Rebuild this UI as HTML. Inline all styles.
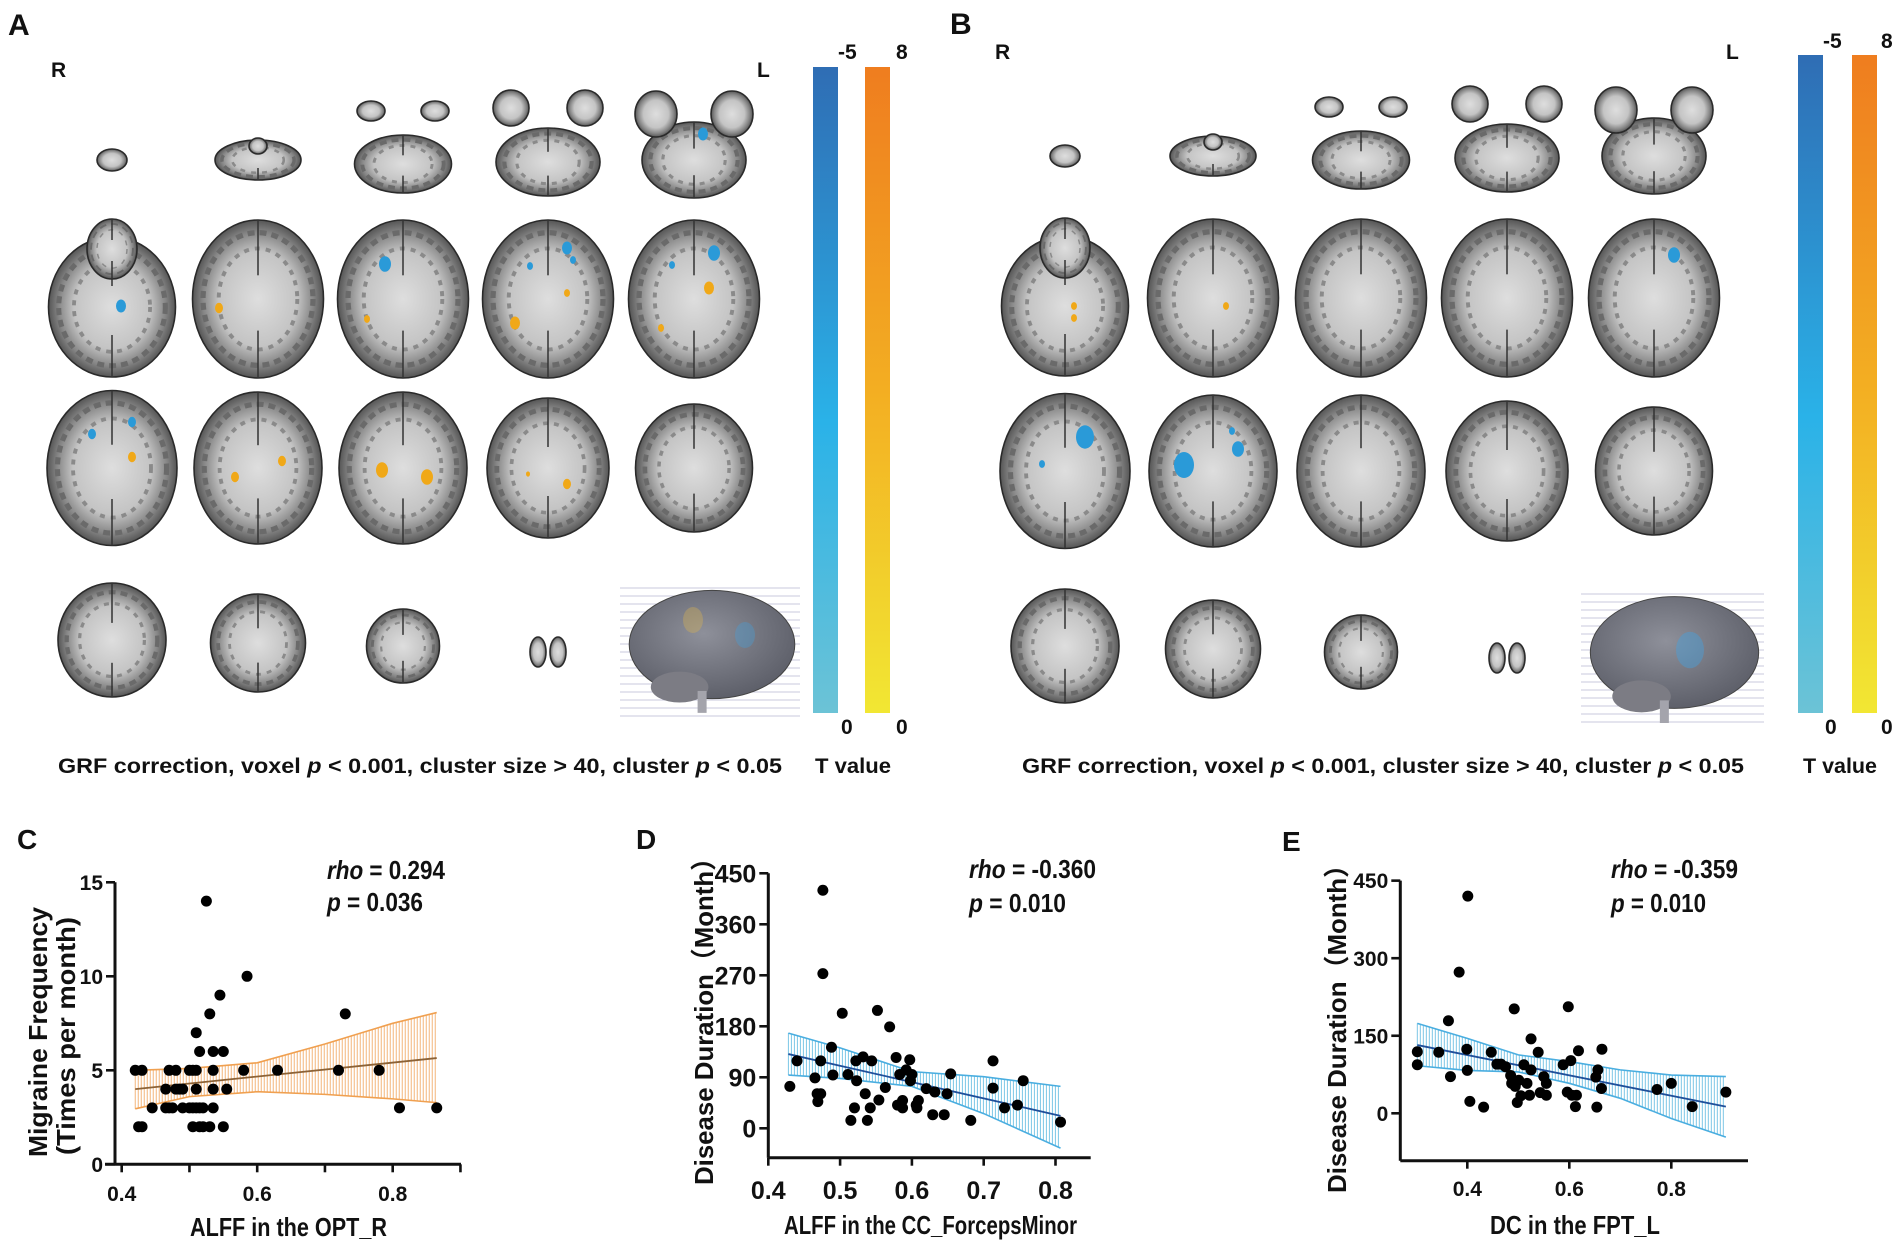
<!DOCTYPE html>
<html><head><meta charset="utf-8"><title>Brain figure</title>
<style>
html,body{margin:0;padding:0;background:#fff;}
svg{display:block;}
text{font-family:"Liberation Sans","Noto Sans CJK SC",sans-serif;font-weight:bold;fill:#111;}
</style></head>
<body>
<svg id="fig" xmlns="http://www.w3.org/2000/svg" width="1902" height="1249" viewBox="0 0 1902 1249">
<defs>
<radialGradient id="brainGrad" cx="50%" cy="50%" r="50%">
<stop offset="0%" stop-color="#dedede"/><stop offset="60%" stop-color="#c4c4c4"/><stop offset="85%" stop-color="#858585"/><stop offset="100%" stop-color="#555"/>
</radialGradient>
<radialGradient id="brain3d" cx="45%" cy="40%" r="60%">
<stop offset="0%" stop-color="#8e909a"/><stop offset="100%" stop-color="#5e606a"/>
</radialGradient>
<linearGradient id="blueBar" x1="0" y1="0" x2="0" y2="1">
<stop offset="0%" stop-color="#2f6db4"/><stop offset="55%" stop-color="#2ab2e8"/><stop offset="100%" stop-color="#6cc3d6"/>
</linearGradient>
<linearGradient id="orangeBar" x1="0" y1="0" x2="0" y2="1">
<stop offset="0%" stop-color="#ef7d1f"/><stop offset="50%" stop-color="#f3ae22"/><stop offset="100%" stop-color="#f2e733"/>
</linearGradient>
</defs>

<!-- Panel A static text -->
<text x="8" y="35" font-size="30">A</text>
<text x="51" y="77" font-size="21">R</text>
<text x="757" y="77" font-size="21">L</text>
<rect x="813" y="67" width="25" height="646" fill="url(#blueBar)"/>
<rect x="865" y="67" width="25" height="646" fill="url(#orangeBar)"/>
<text x="838" y="59" font-size="21">-5</text>
<text x="896" y="59" font-size="21">8</text>
<text x="841" y="734" font-size="21">0</text>
<text x="896" y="734" font-size="21">0</text>
<text x="58" y="773" font-size="21" textLength="724" lengthAdjust="spacingAndGlyphs">GRF correction, voxel <tspan font-style="italic">p</tspan> &lt; 0.001, cluster size &gt; 40, cluster <tspan font-style="italic">p</tspan> &lt; 0.05</text>
<text x="815" y="773" font-size="21" textLength="76" lengthAdjust="spacingAndGlyphs">T value</text>

<!-- Panel B static text -->
<text x="950" y="34" font-size="30">B</text>
<text x="995" y="59" font-size="21">R</text>
<text x="1726" y="59" font-size="21">L</text>
<rect x="1798" y="55" width="25" height="658" fill="url(#blueBar)"/>
<rect x="1852" y="55" width="25" height="658" fill="url(#orangeBar)"/>
<text x="1823" y="48" font-size="21">-5</text>
<text x="1881" y="48" font-size="21">8</text>
<text x="1825" y="734" font-size="21">0</text>
<text x="1881" y="734" font-size="21">0</text>
<text x="1022" y="773" font-size="21" textLength="722" lengthAdjust="spacingAndGlyphs">GRF correction, voxel <tspan font-style="italic">p</tspan> &lt; 0.001, cluster size &gt; 40, cluster <tspan font-style="italic">p</tspan> &lt; 0.05</text>
<text x="1803" y="773" font-size="21" textLength="74" lengthAdjust="spacingAndGlyphs">T value</text>

<!-- Panel C text -->
<text x="17" y="849" font-size="28">C</text>
<text x="327" y="879" font-size="26" textLength="118" lengthAdjust="spacingAndGlyphs"><tspan font-style="italic">rho</tspan> = 0.294</text>
<text x="327" y="911" font-size="26" textLength="96" lengthAdjust="spacingAndGlyphs"><tspan font-style="italic">p</tspan> = 0.036</text>
<text x="190" y="1236" font-size="26" textLength="197" lengthAdjust="spacingAndGlyphs">ALFF in the OPT_R</text>
<text transform="translate(47,1157) rotate(-90)" x="0" y="0" font-size="26" textLength="250" lengthAdjust="spacingAndGlyphs">Migraine Frequency</text>
<text transform="translate(75,1155) rotate(-90)" x="0" y="0" font-size="26" textLength="238" lengthAdjust="spacingAndGlyphs">(Times per month)</text>

<!-- Panel D text -->
<text x="636" y="849" font-size="28">D</text>
<text x="969" y="878" font-size="26" textLength="127" lengthAdjust="spacingAndGlyphs"><tspan font-style="italic">rho</tspan> = -0.360</text>
<text x="969" y="912" font-size="26" textLength="97" lengthAdjust="spacingAndGlyphs"><tspan font-style="italic">p</tspan> = 0.010</text>
<text x="784" y="1234" font-size="26" textLength="293" lengthAdjust="spacingAndGlyphs">ALFF in the CC_ForcepsMinor</text>
<text transform="translate(713,1185) rotate(-90)" x="0" y="0" font-size="26" textLength="340" lengthAdjust="spacingAndGlyphs">Disease Duration（Month）</text>

<!-- Panel E text -->
<text x="1282" y="851" font-size="28">E</text>
<text x="1611" y="878" font-size="26" textLength="127" lengthAdjust="spacingAndGlyphs"><tspan font-style="italic">rho</tspan> = -0.359</text>
<text x="1611" y="912" font-size="26" textLength="95" lengthAdjust="spacingAndGlyphs"><tspan font-style="italic">p</tspan> = 0.010</text>
<text x="1490" y="1234" font-size="26" textLength="170" lengthAdjust="spacingAndGlyphs">DC in the FPT_L</text>
<text transform="translate(1346,1193) rotate(-90)" x="0" y="0" font-size="26" textLength="341" lengthAdjust="spacingAndGlyphs">Disease Duration（Month）</text>

<g id="brains"></g>
<g id="charts"></g>
</svg>

<script>
// ---------- Panel C data ----------
const cXTicks = [0.4, 0.5, 0.6, 0.7, 0.8, 0.9];
const cXLabels = ["0.4", "", "0.6", "", "0.8", ""];
const cYTicks = [0, 5, 10, 15];
const cX = [0.42,0.43,0.425,0.43,0.445,0.465,0.47,0.48,0.465,0.47,0.475,0.48,0.485,0.49,0.5,0.505,0.51,0.51,0.49,0.5,0.505,0.51,0.515,0.52,0.505,0.515,0.52,0.51,0.515,0.525,0.53,0.535,0.535,0.535,0.535,0.53,0.545,0.55,0.555,0.55,0.585,0.58,0.63,0.72,0.73,0.78,0.81,0.865];
const cY = [5,5,2,2,3,4,5,5,3,3,3,4,4,4,5,5,5,4,3,3,3,3,3,3,2,2,2,7,6,14,8,6,5,4,3,2,9,6,4,2,10,5,5,5,8,5,3,3];
const cFitX = [0.42, 0.865];
const cFitY = [4.0, 5.65];
const cCiX = [0.42, 0.5, 0.6, 0.7, 0.8, 0.865];
const cCiUp = [5.0, 5.1, 5.4, 6.4, 7.5, 8.07];
const cCiLo = [2.95, 3.6, 3.86, 3.72, 3.48, 3.28];

// ---------- Panel D data ----------
const dXTicks = [0.4, 0.5, 0.6, 0.7, 0.8];
const dXLabels = ["0.4", "0.5", "0.6", "0.7", "0.8"];
const dYTicks = [0, 90, 180, 270, 360, 450];
const dX = [0.430,0.440,0.476,0.476,0.465,0.468,0.473,0.469,0.473,0.488,0.490,0.503,0.511,0.515,0.520,0.522,0.523,0.532,0.535,0.538,0.542,0.544,0.552,0.554,0.563,0.569,0.578,0.580,0.583,0.584,0.587,0.587,0.592,0.597,0.598,0.600,0.606,0.607,0.609,0.620,0.629,0.632,0.645,0.649,0.654,0.682,0.713,0.713,0.729,0.747,0.755,0.807];
const dY = [74,119,420,273,89,61,61,47,119,143,94,203,95,14,36,119,84,126,61,14,36,119,208,50,72,179,125,41,95,41,49,36,103,121,84,95,41,36,49,70,24,64,24,61,96,14,119,71,36,41,84,11];
const dFitX = [0.428, 0.807];
const dFitY = [131, 22];
const dCiX = [0.428, 0.5, 0.6, 0.7, 0.807];
const dCiUp = [168, 142, 100, 91, 74];
const dCiLo = [94, 88, 74, 26, -35];

// ---------- Panel E data ----------
const eXTicks = [0.4, 0.6, 0.8];
const eXLabels = ["0.4", "0.6", "0.8"];
const eYTicks = [0, 150, 300, 450];
const eX = [0.302,0.302,0.344,0.367,0.363,0.384,0.401,0.399,0.400,0.405,0.432,0.447,0.458,0.466,0.475,0.485,0.487,0.492,0.494,0.498,0.501,0.505,0.511,0.517,0.522,0.525,0.525,0.539,0.543,0.550,0.555,0.555,0.588,0.596,0.598,0.603,0.605,0.612,0.614,0.618,0.652,0.656,0.654,0.663,0.664,0.772,0.800,0.841,0.907];
const eY = [119,94,118,71,179,273,420,124,83,23,12,118,95,95,90,73,58,202,52,21,64,34,94,58,35,144,84,118,40,71,35,58,94,41,206,102,35,13,35,121,70,84,12,48,124,46,58,13,41];
const eFitX = [0.302, 0.907];
const eFitY = [132, 13];
const eCiX = [0.302, 0.4, 0.5, 0.6, 0.7, 0.8, 0.907];
const eCiUp = [174, 145, 113, 100, 84, 74, 71];
const eCiLo = [92, 83, 80, 58, 29, -10, -46];

// axis functions
const xC = v => 121.7 + (v - 0.4) * 677.5;
const yC = v => 1164.3 - v * 18.8;
const xD = v => 768.3 + (v - 0.4) * 718;
const yD = v => 1128.3 - v * 0.5667;
const xE = v => 1467.3 + (v - 0.4) * 510;
const yE = v => 1113.3 - v * 0.517;

const NS = "http://www.w3.org/2000/svg";
function mk(parent, tag, attrs, name) {
  const e = document.createElementNS(NS, tag);
  for (const k in attrs) e.setAttribute(k, attrs[k]);
  
  
  parent.appendChild(e);
  return e;
}
function interp(xs, ys, x) {
  if (x <= xs[0]) return ys[0];
  for (let i = 1; i < xs.length; i++) {
    if (x <= xs[i]) { const t = (x - xs[i-1]) / (xs[i] - xs[i-1]); return ys[i-1] + t * (ys[i] - ys[i-1]); }
  }
  return ys[ys.length - 1];
}

function drawPanel(id, xs, ys, fitX, fitY, ciX, ciUp, ciLo, xf, yf, opt) {
  const root = document.getElementById('charts');
  const g = mk(root, 'g', {}, 'panel-' + id + '-plot');
  const band = mk(g, 'g', {}, 'panel-' + id + '-confidence-band');
  const x0 = xf(ciX[0]), x1 = xf(ciX[ciX.length - 1]);
  for (let px = x0; px <= x1 + 0.01; px += 3) {
    const v = ciX[0] + (px - x0) / (x1 - x0) * (ciX[ciX.length-1] - ciX[0]);
    mk(band, 'line', {x1: px, x2: px, y1: yf(interp(ciX, ciUp, v)), y2: yf(interp(ciX, ciLo, v)), stroke: opt.hatch, 'stroke-width': 1}, 'panel-' + id + '-hatch-line');
  }
  const up = ciX.map((v, i) => xf(v) + ',' + yf(ciUp[i])).join(' ');
  const lo = ciX.map((v, i) => xf(v) + ',' + yf(ciLo[i])).join(' ');
  mk(band, 'polyline', {points: up, fill: 'none', stroke: opt.edge, 'stroke-width': 1.6}, 'panel-' + id + '-ci-upper');
  mk(band, 'polyline', {points: lo, fill: 'none', stroke: opt.edge, 'stroke-width': 1.6}, 'panel-' + id + '-ci-lower');
  mk(g, 'line', {x1: xf(fitX[0]), y1: yf(fitY[0]), x2: xf(fitX[1]), y2: yf(fitY[1]), stroke: opt.fit, 'stroke-width': 1.8}, 'panel-' + id + '-regression-line');
  const ax = opt.axis;
  mk(g, 'line', {x1: ax.yAxisX, x2: ax.yAxisX, y1: yf(ax.yTop), y2: ax.yBottom, stroke: '#111', 'stroke-width': 3}, 'panel-' + id + '-y-axis');
  mk(g, 'line', {x1: ax.xStart, x2: ax.xEnd, y1: ax.xAxisY, y2: ax.xAxisY, stroke: '#111', 'stroke-width': 3}, 'panel-' + id + '-x-axis');
  opt.yTicks.forEach(v => {
    mk(g, 'line', {x1: ax.yAxisX - 9, x2: ax.yAxisX, y1: yf(v), y2: yf(v), stroke: '#111', 'stroke-width': 2.6}, 'panel-' + id + '-y-tick');
    const t = mk(g, 'text', {x: ax.yAxisX - 12, y: yf(v) + opt.tickFont * 0.36, 'text-anchor': 'end', 'font-size': opt.tickFont}, 'panel-' + id + '-y-tick-label');
    t.textContent = String(v);
  });
  opt.xTicks.forEach((v, i) => {
    mk(g, 'line', {x1: xf(v), x2: xf(v), y1: ax.xAxisY, y2: ax.xAxisY + 8, stroke: '#111', 'stroke-width': 2.6}, 'panel-' + id + '-x-tick');
    if (opt.xLabels[i]) {
      const t = mk(g, 'text', {x: xf(v), y: ax.labelY, 'text-anchor': 'middle', 'font-size': opt.tickFont}, 'panel-' + id + '-x-tick-label');
      t.textContent = opt.xLabels[i];
    }
  });
  const pts = mk(g, 'g', {}, 'panel-' + id + '-points');
  xs.forEach((v, i) => {
    mk(pts, 'circle', {cx: xf(v), cy: yf(ys[i]), r: 5.5, fill: '#000'}, 'panel-' + id + '-data-point');
  });
}

drawPanel('c', cX, cY, cFitX, cFitY, cCiX, cCiUp, cCiLo, xC, yC, {
  hatch: '#f2b57a', edge: '#f0a050', fit: '#8c6236', tickFont: 21,
  yTicks: cYTicks, xTicks: cXTicks, xLabels: cXLabels,
  axis: {yAxisX: 115, yTop: 15, yBottom: 1164.3, xStart: 105, xEnd: 461, xAxisY: 1164.3, labelY: 1201}
});
drawPanel('d', dX, dY, dFitX, dFitY, dCiX, dCiUp, dCiLo, xD, yD, {
  hatch: '#7cc6e6', edge: '#4aaee0', fit: '#1f4f9a', tickFont: 25,
  yTicks: dYTicks, xTicks: dXTicks, xLabels: dXLabels,
  axis: {yAxisX: 768.3, yTop: 450, yBottom: 1157.7, xStart: 768.3, xEnd: 1090.7, xAxisY: 1157.7, labelY: 1199}
});
drawPanel('e', eX, eY, eFitX, eFitY, eCiX, eCiUp, eCiLo, xE, yE, {
  hatch: '#7cc6e6', edge: '#4aaee0', fit: '#1f4f9a', tickFont: 21,
  yTicks: eYTicks, xTicks: eXTicks, xLabels: eXLabels,
  axis: {yAxisX: 1400.3, yTop: 450, yBottom: 1160.7, xStart: 1400.3, xEnd: 1748, xAxisY: 1160.7, labelY: 1196}
});

// ---------- Brain slices (decorative imagery) ----------
const bg = document.getElementById('brains');
function slice(cx, cy, w, h, name) {
  const g = mk(bg, 'g', {}, name);
  mk(g, 'ellipse', {cx: cx, cy: cy, rx: w/2, ry: h/2, fill: 'url(#brainGrad)', stroke: '#2a2a2a', 'stroke-width': 1.6}, 'slice-outline');
  if (w > 45) {
    mk(g, 'ellipse', {cx: cx, cy: cy, rx: w*0.42, ry: h*0.42, fill: 'none', stroke: '#6a6a6a', 'stroke-width': Math.max(2, w*0.04), 'stroke-dasharray': '7 5'}, 'slice-gyri');
    mk(g, 'ellipse', {cx: cx, cy: cy, rx: w*0.3, ry: h*0.32, fill: 'none', stroke: '#8a8a8a', 'stroke-width': Math.max(1.5, w*0.03), 'stroke-dasharray': '5 6'}, 'slice-gyri-inner');
    mk(g, 'line', {x1: cx, x2: cx, y1: cy - h/2, y2: cy - h*0.15, stroke: '#333', 'stroke-width': 1.5}, 'slice-midline');
    mk(g, 'line', {x1: cx, x2: cx, y1: cy + h*0.2, y2: cy + h/2, stroke: '#333', 'stroke-width': 1.5}, 'slice-midline');
  }
}
function blob(cx, cy, r, color) {
  mk(bg, 'ellipse', {cx: cx, cy: cy, rx: r, ry: r * 1.3, fill: color}, 'activation-cluster');
}
function brain3d(x0, y0, x1, y1, name) {
  const g = mk(bg, 'g', {}, name);
  for (let y = y0; y <= y1; y += 8) {
    mk(g, 'line', {x1: x0, x2: x1, y1: y, y2: y, stroke: '#c8c8dc', 'stroke-width': 1}, 'slice-level-line');
  }
  const cx = (x0 + x1) / 2 + 2, cy = (y0 + y1) / 2 - 8;
  mk(g, 'ellipse', {cx: cx, cy: cy, rx: (x1 - x0) * 0.46, ry: (y1 - y0) * 0.42, fill: 'url(#brain3d)', stroke: '#444', 'stroke-width': 1}, 'brain-surface');
  mk(g, 'ellipse', {cx: cx - (x1-x0)*0.18, cy: cy + (y1-y0)*0.33, rx: (x1-x0)*0.16, ry: (y1-y0)*0.12, fill: '#7c7c84'}, 'cerebellum');
  mk(g, 'rect', {x: cx - (x1-x0)*0.08, y: cy + (y1-y0)*0.36, width: 9, height: (y1-y0)*0.17, fill: '#a4a4ac'}, 'brain-stem');
}
function panelSlices(cols, rows, p) {
  slice(cols[0], rows[0], 30, 22, p + '-slice-1');
  slice(cols[1], rows[0], 86, 40, p + '-slice-2');
  slice(cols[1], rows[0] - 14, 18, 16, p + '-slice-2b');
  slice(cols[2], rows[0] + 4, 97, 58, p + '-slice-3');
  slice(cols[2] - 32, rows[0] - 49, 28, 20, p + '-slice-3-pole-r');
  slice(cols[2] + 32, rows[0] - 49, 28, 20, p + '-slice-3-pole-l');
  slice(cols[3], rows[0] + 2, 104, 68, p + '-slice-4');
  slice(cols[3] - 37, rows[0] - 52, 36, 36, p + '-slice-4-pole-r');
  slice(cols[3] + 37, rows[0] - 52, 36, 36, p + '-slice-4-pole-l');
  slice(cols[4], rows[0], 104, 76, p + '-slice-5');
  slice(cols[4] - 38, rows[0] - 46, 42, 46, p + '-slice-5-pole-r');
  slice(cols[4] + 38, rows[0] - 46, 42, 46, p + '-slice-5-pole-l');
  slice(cols[0], rows[1] + 8, 127, 140, p + '-slice-6');
  slice(cols[0], rows[1] - 50, 50, 60, p + '-slice-6-frontal');
  for (let i = 1; i < 5; i++) slice(cols[i], rows[1], 131, 158, p + '-slice-' + (6 + i));
  const r3w = [130, 128, 128, 122, 117], r3h = [155, 152, 152, 140, 128];
  for (let i = 0; i < 5; i++) slice(cols[i], rows[2], r3w[i], r3h[i], p + '-slice-' + (11 + i));
  const r4w = [108, 95, 73], r4h = [114, 98, 74];
  for (let i = 0; i < 3; i++) slice(cols[i], rows[3] + i * 3, r4w[i], r4h[i], p + '-slice-' + (16 + i));
  slice(cols[3] - 10, rows[3] + 12, 16, 30, p + '-slice-19-r');
  slice(cols[3] + 10, rows[3] + 12, 16, 30, p + '-slice-19-l');
}
panelSlices([112, 258, 403, 548, 694], [160, 299, 468, 640], 'a');
brain3d(620, 588, 800, 717, 'a-3d-brain');
panelSlices([1065, 1213, 1361, 1507, 1654], [156, 298, 471, 646], 'b');
brain3d(1581, 594, 1764, 727, 'b-3d-brain');

const BLUE = '#2a9ad8', ORANGE = '#f0a818';
blob(703, 134, 5, BLUE); blob(121, 306, 5, BLUE); blob(219, 308, 4, ORANGE);
blob(385, 264, 6, BLUE); blob(367, 319, 3, ORANGE);
blob(567, 248, 5, BLUE); blob(530, 266, 3, BLUE); blob(573, 260, 3, BLUE); blob(567, 293, 3, ORANGE); blob(515, 323, 5, ORANGE);
blob(714, 253, 6, BLUE); blob(672, 265, 3, BLUE); blob(709, 288, 5, ORANGE); blob(661, 328, 3, ORANGE);
blob(92, 434, 4, BLUE); blob(132, 422, 4, BLUE); blob(132, 457, 4, ORANGE);
blob(235, 477, 4, ORANGE); blob(282, 461, 4, ORANGE);
blob(382, 470, 6, ORANGE); blob(427, 477, 6, ORANGE); blob(567, 484, 4, ORANGE); blob(528, 474, 2, ORANGE);
blob(693, 620, 10, 'rgba(220,180,80,0.35)'); blob(745, 635, 10, 'rgba(70,160,220,0.35)');
blob(1074, 306, 3, ORANGE); blob(1074, 318, 3, ORANGE); blob(1226, 306, 3, ORANGE);
blob(1674, 255, 6, BLUE);
blob(1085, 437, 9, BLUE); blob(1042, 464, 3, BLUE);
blob(1184, 465, 10, BLUE); blob(1238, 449, 6, BLUE); blob(1232, 431, 3, BLUE);
blob(1690, 650, 14, 'rgba(70,160,220,0.45)');
</script>
</body></html>
